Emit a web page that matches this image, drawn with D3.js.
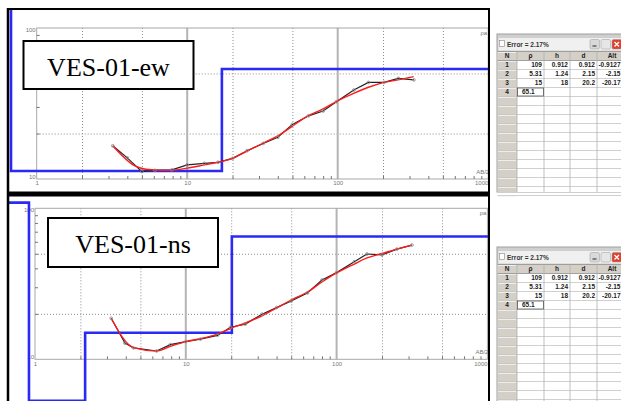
<!DOCTYPE html>
<html>
<head>
<meta charset="utf-8">
<script src="https://cdn.jsdelivr.net/npm/d3@7"></script>
<style>
  body { margin: 0; background: #fff; }
  svg { display: block; }
</style>
</head>
<body>
<svg id="chart" width="621" height="401"></svg>
<script>
// --- data ---
var abTopObs  = [3.2, 4, 5, 6.1, 7.9, 10, 13, 16, 20, 25, 32, 40, 50, 64, 80, 98, 128, 160, 203, 253, 321];
var rhoTopObs = [16.6, 13.8, 11.2, 11.4, 11.5, 12.4, 12.7, 12.9, 13.7, 15.4, 17.2, 18.9, 23.0, 26.2, 28.2, 32.5, 38.8, 43.6, 43.6, 46.4, 45.3];
var abTopFit  = [3.2, 4.5, 5.3, 7, 8.5, 10, 13, 16, 20, 25, 32, 40, 50, 63, 80, 98, 128, 160, 200, 250, 320];
var rhoTopFit = [16.6, 12.2, 11.6, 11.4, 11.5, 11.8, 12.4, 12.9, 13.7, 15.3, 17.3, 19.3, 22.4, 26.1, 29.1, 32.6, 36.9, 40.5, 43.5, 45.3, 47.6];
var modelTopRho   = [200, 11.3, 53.5];
var modelTopDepth = [0.675, 17.0];

var abBotObs  = [3.2, 3.95, 4.5, 6.4, 7.9, 10, 12.5, 16.2, 19.8, 24.8, 32, 40, 50, 64, 80, 100, 131, 159, 200, 251, 316];
var rhoBotObs = [18.7, 12.8, 11.9, 11.35, 12.5, 13.1, 13.6, 14.4, 16.3, 17.1, 19.9, 22.0, 24.3, 27.5, 33.5, 37.5, 44.3, 49.8, 49.1, 53.7, 57.1];
var abBotFit  = [3.2, 4.5, 6.4, 7.9, 10, 12.5, 16.2, 19.8, 24.8, 32, 40, 50, 64, 80, 100, 131, 159, 200, 251, 316];
var rhoBotFit = [18.7, 11.95, 11.35, 12.2, 13.1, 13.7, 14.7, 16.0, 17.4, 19.4, 21.9, 24.7, 27.9, 32.5, 37.3, 42.7, 46.9, 50.2, 53.7, 57.1];
var modelBotRho   = [109, 5.31, 15, 65.1];
var modelBotDepth = [0.912, 2.15, 20.2];

var xTickLabels = [1, 10, 100, 1000];
var yTickLabels = [10, 100];
var xMinor = [2, 3, 4, 5, 6, 7, 8, 9, 20, 30, 40, 50, 60, 70, 80, 90, 200, 300, 400, 500, 600, 700, 800, 900];
var yMinor = [20, 30, 40, 50, 60, 70, 80, 90];
var xGrid = [2, 5, 20, 50, 200, 500];
var yGrid = [20, 50];
var xMajor = [10, 100];

var tableTitle = 'Error = 2.17%';
var tableHeads = ['N', 'ρ', 'h', 'd', 'Alt'];
var tableN   = ['1', '2', '3', '4'];
var tableRho = ['109', '5.31', '15', '65.1'];
var tableH   = ['0.912', '1.24', '18', ''];
var tableD   = ['0.912', '2.15', '20.2', ''];
var tableAlt = ['-0.9127', '-2.15', '-20.17', ''];

var svg = d3.select('#chart');
var tiny = '"Liberation Sans", Arial, sans-serif';

function drawPanel(p) {
  var x = d3.scaleLog().domain([1, 1000]).range([p.x0, p.x1]);
  var y = d3.scaleLog().domain([10, 100]).range([p.yb, p.yt]);
  var h = p.yb - p.yt;

  var clipId = 'clip-' + p.name;
  svg.append('clipPath').attr('id', clipId)
    .append('rect').attr('x', p.clip[0]).attr('y', p.clip[1])
    .attr('width', p.clip[2] - p.clip[0]).attr('height', p.clip[3] - p.clip[1]);

  var g = svg.append('g');

  // dotted grid
  g.append('g').attr('transform', 'translate(0,' + p.yb + ')')
    .call(d3.axisBottom(x).tickValues(xGrid).tickSize(-h).tickFormat(''))
    .call(function(s) {
      s.select('.domain').remove();
      s.selectAll('line').attr('stroke', '#8c8c8c').attr('stroke-dasharray', '1,2');
    });
  g.append('g').attr('transform', 'translate(' + p.x0 + ',0)')
    .call(d3.axisLeft(y).tickValues(yGrid).tickSize(-(p.x1 - p.x0)).tickFormat(''))
    .call(function(s) {
      s.select('.domain').remove();
      s.selectAll('line').attr('stroke', '#8c8c8c').attr('stroke-dasharray', '1,2');
    });

  // solid decade lines
  g.selectAll('line.major').data(xMajor).enter().append('line')
    .attr('x1', function(d) { return x(d); }).attr('x2', function(d) { return x(d); })
    .attr('y1', p.yt).attr('y2', p.yb)
    .attr('stroke', '#b4b4b4').attr('stroke-width', 2);

  // frame
  g.append('rect').attr('x', p.x0).attr('y', p.yt)
    .attr('width', p.x1 - p.x0).attr('height', h)
    .attr('fill', 'none').attr('stroke', '#a8a8a8').attr('stroke-width', 1);

  // minor ticks
  g.append('g').attr('transform', 'translate(0,' + p.yb + ')')
    .call(d3.axisBottom(x).tickValues(xMinor).tickSize(-3).tickFormat(''))
    .call(function(s) {
      s.select('.domain').remove();
      s.selectAll('line').attr('stroke', '#777');
    });
  g.append('g').attr('transform', 'translate(' + p.x0 + ',0)')
    .call(d3.axisLeft(y).tickValues(yMinor).tickSize(-3).tickFormat(''))
    .call(function(s) {
      s.select('.domain').remove();
      s.selectAll('line').attr('stroke', '#777');
    });

  // tick labels
  g.append('g').attr('transform', 'translate(0,' + p.yb + ')')
    .call(d3.axisBottom(x).tickValues(xTickLabels).tickSize(0).tickPadding(2).tickFormat(d3.format('d')))
    .call(function(s) {
      s.select('.domain').remove();
      s.selectAll('text').attr('fill', '#777').style('font', '6px ' + tiny);
      s.selectAll('text').filter(function(d) { return d === 1000; }).attr('dx', -7);
    });
  g.append('g').attr('transform', 'translate(' + p.x0 + ',0)')
    .call(d3.axisLeft(y).tickValues(yTickLabels).tickSize(0).tickPadding(1).tickFormat(d3.format('d')))
    .call(function(s) {
      s.select('.domain').remove();
      s.selectAll('text').attr('fill', '#777').style('font', '6px ' + tiny);
      s.selectAll('text').filter(function(d) { return d === 100; }).attr('dy', 3);
      s.selectAll('text').filter(function(d) { return d === 10; }).attr('dy', -1);
    });
  g.append('text').attr('x', p.x1 - 1).attr('y', p.yt + 7).attr('text-anchor', 'end')
    .attr('fill', '#777').style('font', '6px ' + tiny).text('ρa');
  g.append('text').attr('x', p.x1 + 1).attr('y', p.yb - 5).attr('text-anchor', 'end')
    .attr('fill', '#777').style('font', '6px ' + tiny).text('AB/2');

  // layered model (blue steps)
  var steps = [[0.05, p.rho[0]]];
  p.depth.forEach(function(dp, i) {
    steps.push([dp, p.rho[i]]);
    steps.push([dp, p.rho[i + 1]]);
  });
  steps.push([5000, p.rho[p.rho.length - 1]]);
  var line = d3.line().x(function(d) { return x(d[0]); }).y(function(d) { return y(d[1]); });
  svg.append('path').datum(steps).attr('clip-path', 'url(#' + clipId + ')')
    .attr('d', line).attr('fill', 'none').attr('stroke', '#2a2af2').attr('stroke-width', 2.6);

  // observed curve, fitted curve, points
  var obs = p.abObs.map(function(a, i) { return [a, p.rhoObs[i]]; });
  var fit = p.abFit.map(function(a, i) { return [a, p.rhoFit[i]]; });
  svg.append('path').datum(obs).attr('d', line)
    .attr('fill', 'none').attr('stroke', '#222').attr('stroke-width', 1.2);
  svg.append('path').datum(fit).attr('d', d3.line().curve(d3.curveMonotoneX)
      .x(function(d) { return x(d[0]); }).y(function(d) { return y(d[1]); }))
    .attr('fill', 'none').attr('stroke', '#ff1a1a').attr('stroke-width', 1.4);
  svg.append('g').selectAll('circle').data(obs).enter().append('circle')
    .attr('cx', function(d) { return x(d[0]); }).attr('cy', function(d) { return y(d[1]); })
    .attr('r', 1.4).attr('fill', 'none').attr('stroke', '#8a8a8a').attr('stroke-width', 0.8);

  // site label
  svg.append('rect').attr('x', p.box[0]).attr('y', p.box[1]).attr('width', p.box[2]).attr('height', p.box[3])
    .attr('fill', '#fff').attr('stroke', '#000').attr('stroke-width', 2);
  svg.append('text').attr('x', p.box[0] + p.box[2] / 2).attr('y', p.box[1] + 34.5)
    .attr('text-anchor', 'middle')
    .style('font', '26px "Liberation Serif", "Times New Roman", serif')
    .attr('fill', '#000').text(p.name);
}

drawPanel({
  name: 'VES-01-ew', x0: 36.7, x1: 488.2, yt: 28, yb: 179, clip: [9, 10, 489, 191],
  abObs: abTopObs, rhoObs: rhoTopObs, abFit: abTopFit, rhoFit: rhoTopFit,
  rho: modelTopRho, depth: modelTopDepth, box: [23.5, 41, 170, 48]
});
drawPanel({
  name: 'VES-01-ns', x0: 35, x1: 487.4, yt: 208.3, yb: 359.3, clip: [9, 196, 489, 401],
  abObs: abBotObs, rhoObs: rhoBotObs, abFit: abBotFit, rhoFit: rhoBotFit,
  rho: modelBotRho, depth: modelBotDepth, box: [48, 218, 170, 49]
});

// panel frames
svg.append('line').attr('x1', 7).attr('x2', 490).attr('y1', 9).attr('y2', 9).attr('stroke', '#000').attr('stroke-width', 2);
svg.append('line').attr('x1', 8).attr('x2', 8).attr('y1', 8).attr('y2', 401).attr('stroke', '#000').attr('stroke-width', 2.5);
svg.append('line').attr('x1', 489).attr('x2', 489).attr('y1', 8).attr('y2', 401).attr('stroke', '#000').attr('stroke-width', 2);
svg.append('rect').attr('x', 7).attr('y', 191.5).attr('width', 483).attr('height', 5).attr('fill', '#000');

// table windows
function drawTable(ox, oy, hgt) {
  var g = svg.append('g').attr('transform', 'translate(' + ox + ',' + oy + ')');
  var W = 130, rowH = 9, top = 17.5;
  var cols = [0, 20, 47, 73, 100, W];

  g.append('rect').attr('x', 0).attr('y', 0).attr('width', W).attr('height', hgt)
    .attr('fill', '#cfcfcf').attr('stroke', '#a0a0a0').attr('stroke-width', 1);
  g.append('rect').attr('x', 1.5).attr('y', 4).attr('width', W).attr('height', 12.5).attr('fill', '#f0f0f0');
  g.append('rect').attr('x', 2.5).attr('y', 6.5).attr('width', 5).attr('height', 6)
    .attr('fill', '#fff').attr('stroke', '#888').attr('stroke-width', 0.6);
  g.append('text').attr('x', 10).attr('y', 13).attr('fill', '#333')
    .style('font', 'bold 6.5px ' + tiny).text(tableTitle);
  // title buttons
  [[93, '#d9d9d9'], [104, '#e6e6e6'], [115, '#e0402c']].forEach(function(b, i) {
    g.append('rect').attr('x', b[0]).attr('y', 5.5).attr('width', 9.5).attr('height', 9.5).attr('rx', 1.5)
      .attr('fill', b[1]).attr('stroke', '#999').attr('stroke-width', 0.5);
    if (i === 0) g.append('line').attr('x1', b[0] + 2.5).attr('x2', b[0] + 6.5).attr('y1', 12).attr('y2', 12)
      .attr('stroke', '#444').attr('stroke-width', 1.2);
    if (i === 2) g.append('path').attr('d', 'M' + (b[0] + 2.5) + ',8 l4.5,4.5 M' + (b[0] + 7) + ',8 l-4.5,4.5')
      .attr('stroke', '#fff').attr('stroke-width', 1.3);
  });

  var rows = Math.floor((hgt - top) / rowH) + 1;
  g.append('rect').attr('x', cols[1]).attr('y', top).attr('width', W - cols[1]).attr('height', hgt - top).attr('fill', '#fff');
  g.append('rect').attr('x', 0.5).attr('y', top).attr('width', cols[1] - 0.5).attr('height', hgt - top).attr('fill', '#d4d0c8');
  g.append('rect').attr('x', 0.5).attr('y', top).attr('width', W).attr('height', rowH).attr('fill', '#d4d0c8');
  for (var r = 0; r <= rows; r++) {
    var yy = top + r * rowH;
    g.append('line').attr('x1', 0.5).attr('x2', W).attr('y1', yy).attr('y2', yy)
      .attr('stroke', r <= 1 ? '#8f8f8f' : '#c4c4c4').attr('stroke-width', 0.8);
    g.append('line').attr('x1', 1).attr('x2', cols[1] - 1).attr('y1', yy + 1).attr('y2', yy + 1)
      .attr('stroke', '#f4f4f4').attr('stroke-width', 0.8);
  }
  cols.slice(1, 5).forEach(function(cx) {
    g.append('line').attr('x1', cx).attr('x2', cx).attr('y1', top).attr('y2', hgt)
      .attr('stroke', '#b0b0b0').attr('stroke-width', 0.8);
  });

  var font = 'bold 6.5px ' + tiny;
  tableHeads.forEach(function(t, i) {
    g.append('text').attr('x', (cols[i] + cols[i + 1]) / 2).attr('y', top + 6.5)
      .attr('text-anchor', 'middle').attr('fill', '#222').style('font', font).text(t);
  });
  var rightEdge = [cols[2] - 2, cols[3] - 2, cols[4] - 2, 123.5];
  tableN.forEach(function(n, i) {
    var yy = top + (i + 1) * rowH + 6.5;
    g.append('text').attr('x', 10).attr('y', yy).attr('text-anchor', 'middle').attr('fill', '#222').style('font', font).text(n);
    [tableRho, tableH, tableD, tableAlt].forEach(function(col, c) {
      if (!col[i]) return;
      var edit = (i === 3 && c === 0);
      g.append('text').attr('x', edit ? cols[c + 1] + 5 : rightEdge[c]).attr('y', yy)
        .attr('text-anchor', edit ? 'start' : 'end').attr('fill', '#222').style('font', font).text(col[i]);
    });
  });
  // edited cell outline
  g.append('rect').attr('x', cols[1] + 0.5).attr('y', top + 4 * rowH + 0.5).attr('width', cols[2] - cols[1] - 1).attr('height', rowH - 1)
    .attr('fill', 'none').attr('stroke', '#555').attr('stroke-width', 0.8);
}

drawTable(497, 34, 158);
drawTable(497, 247, 160);
</script>
</body>
</html>
